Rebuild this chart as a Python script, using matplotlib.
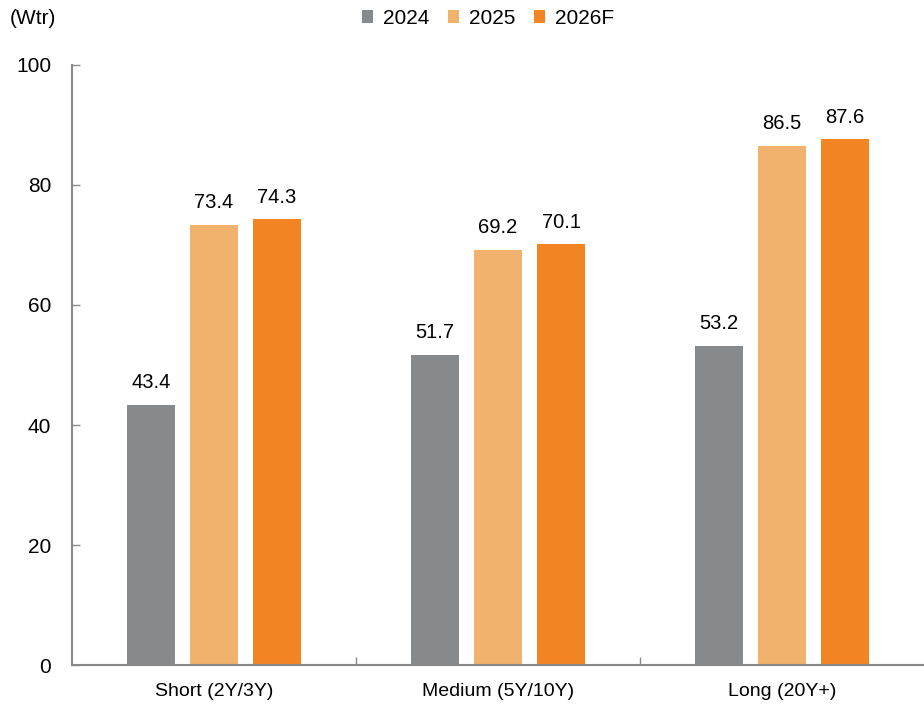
import matplotlib
matplotlib.use("Agg")
import matplotlib.pyplot as plt
import numpy as np

categories = ["Short (2Y/3Y)", "Medium (5Y/10Y)", "Long (20Y+)"]
series_names = ["2024", "2025", "2026F"]
v2024 = [43.4, 51.7, 53.2]
v2025 = [73.4, 69.2, 86.5]
v2026 = [74.3, 70.1, 87.6]
yticks = [0, 20, 40, 60, 80, 100]

colors = ["#868A8C", "#F0B26C", "#F28424"]
narrow = ["Liberation Sans Narrow", "Liberation Sans", "DejaVu Sans"]
regular = ["Liberation Sans", "DejaVu Sans"]

fig = plt.figure(figsize=(9.24, 7.06), dpi=100)
ax = fig.add_axes([0.078, 0.058, 0.922, 0.850])

x = np.arange(len(categories))
width = 0.169
step = 0.222
handles = []
for i, (vals, name, c) in enumerate(zip([v2024, v2025, v2026], series_names, colors)):
    pos = x + (i - 1) * step
    b = ax.bar(pos, vals, width=width, color=c, label=name, zorder=2)
    handles.append(b)
    for p, v in zip(pos, vals):
        ax.annotate(f"{v:.1f}", (p, v), xytext=(0, 9), textcoords="offset points",
                    ha="center", va="bottom", fontsize=14.5, family=regular)

ax.set_xlim(-0.5, 2.5)
ax.set_ylim(0, 100)
ax.set_yticks(yticks)
ax.set_yticklabels([str(t) for t in yticks], family=narrow, fontsize=15)
ax.set_xticks(x)
ax.set_xticklabels(categories, family=narrow, fontsize=14)
ax.tick_params(axis="x", length=0, pad=13)
ax.tick_params(axis="y", direction="in", length=6, width=1, color="#888888", pad=15)
# category separator ticks
ax.set_xticks([0.5, 1.5], minor=True)
ax.tick_params(axis="x", which="minor", direction="in", length=6, width=1, color="#888888")

for s in ["top", "right"]:
    ax.spines[s].set_visible(False)
for s in ["left", "bottom"]:
    ax.spines[s].set_color("#888888")
    ax.spines[s].set_linewidth(1.5)

fig.text(0.011, 0.974, "(Wtr)", family=narrow, fontsize=15, va="center", ha="left")
leg = fig.legend(handles=handles, labels=series_names, loc="center", bbox_to_anchor=(0.528, 0.974),
                 ncol=3, frameon=False, prop={"family": narrow, "size": 15},
                 handlelength=0.55, handleheight=0.55, handletextpad=0.45, columnspacing=0.9)

fig.savefig("out.png", dpi=100)
